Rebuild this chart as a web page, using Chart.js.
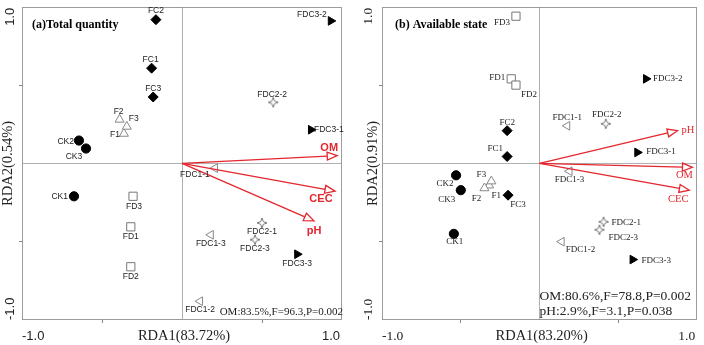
<!DOCTYPE html>
<html><head><meta charset="utf-8">
<script src="https://cdn.jsdelivr.net/npm/chart.js@4"></script>
<style>
html,body{margin:0;padding:0;background:#fff;}
#wrap{position:relative;width:704px;height:345px;overflow:hidden;background:#fff;}
canvas{position:absolute;top:0;}
#ca{left:0;width:352px;height:345px;}
#cb{left:352px;width:352px;height:345px;}
</style></head><body>
<div id="wrap"><canvas id="ca" width="352" height="345"></canvas><canvas id="cb" width="352" height="345"></canvas></div>
<script>
// ================= DATA: panel (a) Total quantity =================
const A_CK_names = ['CK1','CK2','CK3'];
const A_CK_x = [-0.675,-0.644,-0.600];
const A_CK_y = [-0.210, 0.146, 0.095];
const A_F_names = ['F1','F2','F3'];
const A_F_x = [-0.363,-0.390,-0.345];
const A_F_y = [0.190, 0.280, 0.235];
const A_FC_names = ['FC1','FC2','FC3'];
const A_FC_x = [-0.190,-0.163,-0.180];
const A_FC_y = [0.608, 0.918, 0.424];
const A_FD_names = ['FD1','FD2','FD3'];
const A_FD_x = [-0.320,-0.320,-0.306];
const A_FD_y = [-0.405,-0.660,-0.210];
const A_FDC1_names = ['FDC1-1','FDC1-2','FDC1-3'];
const A_FDC1_x = [0.206, 0.113, 0.180];
const A_FDC1_y = [-0.030,-0.880,-0.456];
const A_FDC2_names = ['FDC2-1','FDC2-2','FDC2-3'];
const A_FDC2_x = [0.500, 0.570, 0.456];
const A_FDC2_y = [-0.380, 0.390,-0.487];
const A_FDC3_names = ['FDC3-1','FDC3-2','FDC3-3'];
const A_FDC3_x = [0.806, 0.930, 0.720];
const A_FDC3_y = [0.215, 0.910,-0.580];
const A_env_names = ['OM','CEC','pH'];
const A_env_x = [0.970, 0.956, 0.825];
const A_env_y = [0.050,-0.177,-0.367];
const A_axisX = 'RDA1(83.72%)';
const A_axisY = 'RDA2(0.54%)';
const A_title = '(a)Total quantity';
const A_note = ['OM:83.5%,F=96.3,P=0.002'];

// ================= DATA: panel (b) Available state =================
const B_CK_names = ['CK1','CK2','CK3'];
const B_CK_x = [-0.544,-0.530,-0.500];
const B_CK_y = [-0.450,-0.076,-0.171];
const B_F_names = ['F1','F2','F3'];
const B_F_x = [-0.320,-0.350,-0.306];
const B_F_y = [-0.140,-0.158,-0.114];
const B_FC_names = ['FC1','FC2','FC3'];
const B_FC_x = [-0.206,-0.206,-0.200];
const B_FC_y = [0.044, 0.209,-0.203];
const B_FD_names = ['FD1','FD2','FD3'];
const B_FD_x = [-0.180,-0.150,-0.150];
const B_FD_y = [0.540, 0.500, 0.940];
const B_FDC1_names = ['FDC1-1','FDC1-2','FDC1-3'];
const B_FDC1_x = [0.175, 0.140, 0.190];
const B_FDC1_y = [0.240,-0.500,-0.050];
const B_FDC2_names = ['FDC2-1','FDC2-2','FDC2-3'];
const B_FDC2_x = [0.406, 0.420, 0.380];
const B_FDC2_y = [-0.373, 0.253,-0.424];
const B_FDC3_names = ['FDC3-1','FDC3-2','FDC3-3'];
const B_FDC3_x = [0.620, 0.675, 0.590];
const B_FDC3_y = [0.070, 0.540,-0.614];
const B_env_names = ['pH','OM','CEC'];
const B_env_x = [0.875, 0.970, 0.950];
const B_env_y = [0.209,-0.025,-0.171];
const B_axisX = 'RDA1(83.20%)';
const B_axisY = 'RDA2(0.91%)';
const B_title = '(b) Available state';
const B_note = ['OM:80.6%,F=78.8,P=0.002','pH:2.9%,F=3.1,P=0.038'];

const tickLabels = ['-1.0','1.0'];

// ================= STYLES / LAYOUT =================
const SANS = '"Liberation Sans", Arial, sans-serif';
const SERIF = '"Liberation Serif", "Times New Roman", serif';
const RED = '#e4262e';

function star4Canvas(){
  const c = document.createElement('canvas'); c.width = 12; c.height = 12;
  const g = c.getContext('2d');
  g.beginPath();
  for (let k = 0; k < 8; k++){
    const ang = k*Math.PI/4 - Math.PI/2;
    const rr = (k%2===0) ? 5 : 1.9;
    const px = 6 + rr*Math.cos(ang), py = 6 + rr*Math.sin(ang);
    if (k) g.lineTo(px,py); else g.moveTo(px,py);
  }
  g.closePath(); g.fillStyle = '#fff'; g.fill();
  g.strokeStyle = '#777'; g.lineWidth = 1; g.stroke();
  return c;
}
const STAR4 = star4Canvas();

const seriesStyles = {
  CK:   {style:'circle',   r:4.6, rot:0,   fill:'#000', stroke:'#000', bw:1},
  F:    {style:'triangle', r:5.2, rot:0,   fill:'#fff', stroke:'#888', bw:1},
  FC:   {style:'rectRot',  r:5.0, rot:0,   fill:'#000', stroke:'#000', bw:1},
  FD:   {style:'rect',     r:5.8, rot:0,   fill:'#fff', stroke:'#777', bw:1},
  FDC1: {style:'triangle', r:5.0, rot:-90, fill:'#fff', stroke:'#888', bw:1},
  FDC2: {style:'star4',    r:5.0, rot:0,   fill:'#fff', stroke:'#777', bw:1},
  FDC3: {style:'triangle', r:5.0, rot:90,  fill:'#000', stroke:'#000', bw:1}
};

const A_labelLayout = {
  'CK1':['right',-6,0],'CK2':['right',-5,1],'CK3':['center',-12,8],
  'F1':['right',-4,1],'F2':['center',-1,-8],'F3':['center',7,-8],
  'FC1':['center',-1,-9],'FC2':['center',0,-9],'FC3':['center',0,-8],
  'FD1':['center',0,10],'FD2':['center',0,10],'FD3':['center',1,10],
  'FDC1-1':['center',-20,7],'FDC1-2':['center',0,8],'FDC1-3':['center',0,9],
  'FDC2-1':['center',0,9],'FDC2-2':['center',-1,-8],'FDC2-3':['center',0,9],
  'FDC3-1':['left',3,0],'FDC3-2':['right',-4,-6],'FDC3-3':['center',0,9]
};
const B_labelLayout = {
  'CK1':['center',1,8],'CK2':['center',-11,8],'CK3':['center',-14,9],
  'F1':['center',7,10],'F2':['center',-8,10],'F3':['center',-10,-7],
  'FC1':['center',-12,-8],'FC2':['center',0,-8],'FC3':['center',10,9],
  'FD1':['right',-6,-1],'FD2':['left',5,10],'FD3':['right',-6,6],
  'FDC1-1':['center',0,-8],'FDC1-2':['left',4,8],'FDC1-3':['center',0,8],
  'FDC2-1':['left',8,1],'FDC2-2':['center',1,-9],'FDC2-3':['left',9,8],
  'FDC3-1':['left',9,-1],'FDC3-2':['left',7,0],'FDC3-3':['left',9,1]
};
const A_envLayout = {'OM':['center',-8,-8],'CEC':['center',-14,8],'pH':['center',0,10]};
const B_envLayout = {'pH':['left',4,0],'OM':['center',-8,8],'CEC':['center',-11,9]};

// ================= BUILD =================
function buildDatasets(list){
  return list.map(s => {
    const st = seriesStyles[s.key];
    return {
      label: s.key,
      data: s.names.map((n,i) => ({x:s.x[i], y:s.y[i], name:n})),
      showLine: false,
      pointStyle: st.style === 'star4' ? STAR4 : st.style,
      pointRadius: st.r, pointHoverRadius: st.r,
      pointRotation: st.rot,
      pointBackgroundColor: st.fill,
      pointBorderColor: st.stroke,
      pointBorderWidth: st.bw
    };
  });
}

function drawArrow(ctx, x0, y0, x1, y1){
  const ang = Math.atan2(y1-y0, x1-x0);
  const L = 10, W = 4;
  const bx = x1 - L*Math.cos(ang), by = y1 - L*Math.sin(ang);
  ctx.beginPath(); ctx.moveTo(x0,y0); ctx.lineTo(bx,by); ctx.stroke();
  ctx.beginPath();
  ctx.moveTo(x1,y1);
  ctx.lineTo(bx + W*Math.sin(ang), by - W*Math.cos(ang));
  ctx.lineTo(bx - W*Math.sin(ang), by + W*Math.cos(ang));
  ctx.closePath();
  ctx.fillStyle = '#fff'; ctx.fill(); ctx.stroke();
}

const decor = {
  id: 'decor',
  beforeDatasetsDraw(chart, args, o){
    const {ctx, chartArea: ca} = chart;
    ctx.save();
    ctx.strokeStyle = '#9c9c9c'; ctx.lineWidth = 1;
    ctx.strokeRect(Math.round(ca.left)+0.5, Math.round(ca.top)+0.5,
                   Math.round(ca.right-ca.left)-1, Math.round(ca.bottom-ca.top)-1);
    ctx.restore();
  },
  afterDatasetsDraw(chart, args, o){
    const {ctx, chartArea: ca, scales} = chart;
    const sx = scales.x, sy = scales.y;
    ctx.save();
    // environment arrows
    ctx.strokeStyle = RED; ctx.lineWidth = 1.3;
    const x0 = sx.getPixelForValue(0), y0 = sy.getPixelForValue(0);
    o.env.names.forEach((n,i) => {
      const x1 = sx.getPixelForValue(o.env.x[i]), y1 = sy.getPixelForValue(o.env.y[i]);
      drawArrow(ctx, x0, y0, x1, y1);
    });
    ctx.fillStyle = RED; ctx.font = o.envFont; ctx.textBaseline = 'middle';
    o.env.names.forEach((n,i) => {
      const x1 = sx.getPixelForValue(o.env.x[i]), y1 = sy.getPixelForValue(o.env.y[i]);
      const L = o.envLayout[n];
      ctx.textAlign = L[0]; ctx.fillText(n, x1+L[1], y1+L[2]);
    });
    // point labels
    ctx.fillStyle = '#222'; ctx.font = o.labelFont;
    chart.data.datasets.forEach((ds, di) => {
      const meta = chart.getDatasetMeta(di);
      meta.data.forEach((el, j) => {
        const n = ds.data[j].name;
        const L = o.labelLayout[n] || ['center',0,-8];
        ctx.textAlign = L[0]; ctx.fillText(n, el.x+L[1], el.y+L[2]);
      });
    });
    // panel title
    ctx.fillStyle = '#000'; ctx.font = 'bold 12px ' + SERIF; ctx.textAlign = 'left';
    ctx.fillText(o.title, ca.left + o.titleDx, 25);
    // notes
    ctx.fillStyle = '#222'; ctx.font = o.noteFont;
    o.note.forEach((t,k) => {
      ctx.textAlign = o.noteAlign;
      const nx = o.noteAlign === 'right' ? ca.right + 1 : sx.getPixelForValue(0);
      ctx.fillText(t, nx, o.noteY + k*15);
    });
    // x tick labels & title
    ctx.fillStyle = '#222'; ctx.font = o.tickFont; ctx.textBaseline = 'middle';
    ctx.textAlign = 'left'; ctx.fillText(tickLabels[0], sx.getPixelForValue(-1), 336);
    ctx.textAlign = 'right'; ctx.fillText(tickLabels[1], sx.getPixelForValue(1) - 2, 336);
    ctx.font = '14.5px ' + SERIF; ctx.textAlign = 'center';
    ctx.fillText(o.xTitle, sx.getPixelForValue(0) + 2, 336);
    // y tick labels (rotated)
    ctx.font = o.tickFont;
    ctx.save(); ctx.translate(o.yTickX, sy.getPixelForValue(1)); ctx.rotate(-Math.PI/2);
    ctx.textAlign = 'right'; ctx.fillText(tickLabels[1], -1, 0); ctx.restore();
    ctx.save(); ctx.translate(o.yTickX, sy.getPixelForValue(-1)); ctx.rotate(-Math.PI/2);
    ctx.textAlign = 'left'; ctx.fillText(tickLabels[0], 0, 0); ctx.restore();
    ctx.save(); ctx.translate(o.yTitleX, sy.getPixelForValue(0)); ctx.rotate(-Math.PI/2);
    ctx.font = '14.5px ' + SERIF; ctx.textAlign = 'center'; ctx.fillText(o.yTitle, 0, 0); ctx.restore();
    ctx.restore();
  }
};

function scaleOpts(fitSize, isY){
  return {
    type: 'linear', min: -1, max: 1,
    ticks: {stepSize: 0.5, display: false},
    grid: {
      color: c => (c.tick && c.tick.value === 0) ? '#b0b0b0' : 'rgba(0,0,0,0)',
      lineWidth: 1, drawTicks: true, tickLength: 3,
      tickColor: c => (c.tick && Math.abs(c.tick.value) === 0.5) ? '#888' : 'rgba(0,0,0,0)'
    },
    border: {display: false},
    afterFit: s => { if (isY) s.width = fitSize; else s.height = fitSize; }
  };
}

function makeChart(id, list, cfg){
  return new Chart(document.getElementById(id), {
    type: 'scatter',
    data: {datasets: buildDatasets(list)},
    options: {
      responsive: false, animation: false, devicePixelRatio: 1,
      layout: {padding: {left: 0, right: cfg.padRight, top: 4, bottom: 0}},
      plugins: {legend: {display: false}, tooltip: {enabled: false}, decor: cfg.decor},
      scales: {x: scaleOpts(25, false), y: scaleOpts(cfg.yWidth, true)}
    },
    plugins: [decor]
  });
}

const A_list = [
  {key:'CK', names:A_CK_names, x:A_CK_x, y:A_CK_y},
  {key:'F', names:A_F_names, x:A_F_x, y:A_F_y},
  {key:'FC', names:A_FC_names, x:A_FC_x, y:A_FC_y},
  {key:'FD', names:A_FD_names, x:A_FD_x, y:A_FD_y},
  {key:'FDC1', names:A_FDC1_names, x:A_FDC1_x, y:A_FDC1_y},
  {key:'FDC2', names:A_FDC2_names, x:A_FDC2_x, y:A_FDC2_y},
  {key:'FDC3', names:A_FDC3_names, x:A_FDC3_x, y:A_FDC3_y}
];
const B_list = [
  {key:'CK', names:B_CK_names, x:B_CK_x, y:B_CK_y},
  {key:'F', names:B_F_names, x:B_F_x, y:B_F_y},
  {key:'FC', names:B_FC_names, x:B_FC_x, y:B_FC_y},
  {key:'FD', names:B_FD_names, x:B_FD_x, y:B_FD_y},
  {key:'FDC1', names:B_FDC1_names, x:B_FDC1_x, y:B_FDC1_y},
  {key:'FDC2', names:B_FDC2_names, x:B_FDC2_x, y:B_FDC2_y},
  {key:'FDC3', names:B_FDC3_names, x:B_FDC3_x, y:B_FDC3_y}
];

makeChart('ca', A_list, {
  padRight: 10, yWidth: 22,
  decor: {
    env: {names:A_env_names, x:A_env_x, y:A_env_y}, envLayout: A_envLayout,
    envFont: 'bold 11px ' + SANS, labelFont: '8.5px ' + SANS, labelLayout: A_labelLayout,
    title: A_title, titleDx: 10, note: A_note, noteFont: '11px ' + SERIF, noteAlign: 'right', noteY: 312,
    tickFont: '13px ' + SANS, xTitle: A_axisX, yTitle: A_axisY, yTickX: 10, yTitleX: 8
  }
});
makeChart('cb', B_list, {
  padRight: 2, yWidth: 30,
  decor: {
    env: {names:B_env_names, x:B_env_x, y:B_env_y}, envLayout: B_envLayout,
    envFont: '10.5px ' + SERIF, labelFont: '9px ' + SERIF, labelLayout: B_labelLayout,
    title: B_title, titleDx: 13, note: B_note, noteFont: '13.5px ' + SERIF, noteAlign: 'left', noteY: 296,
    tickFont: '13.5px ' + SERIF, xTitle: B_axisX, yTitle: B_axisY, yTickX: 16, yTitleX: 21
  }
});
</script>
</body></html>
